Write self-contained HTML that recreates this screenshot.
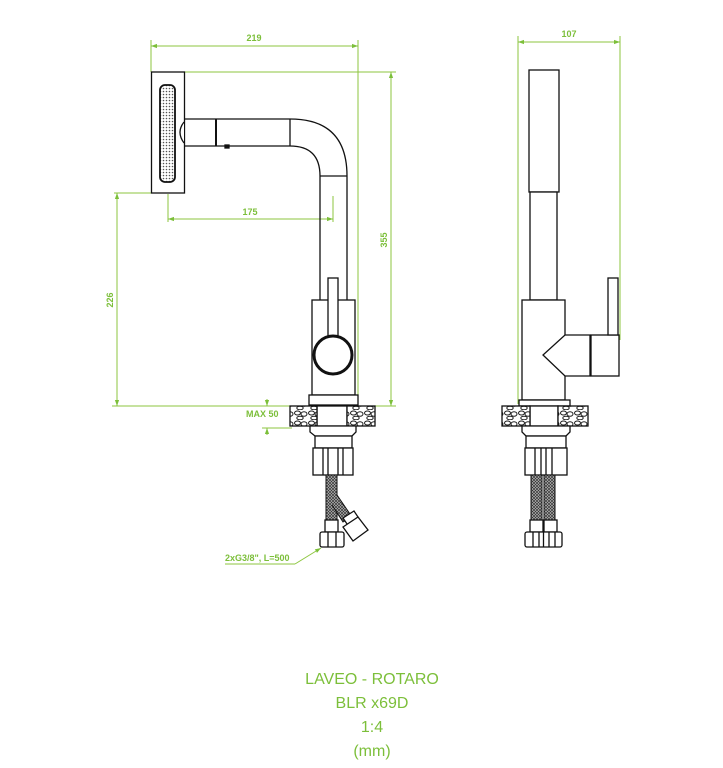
<!DOCTYPE html>
<html><head><meta charset="utf-8"><style>
html,body{margin:0;padding:0;background:#fff;}
svg{display:block;}
.t{font-family:"Liberation Sans",sans-serif;fill:#7cbf3a;}
</style></head><body>
<svg width="723" height="768" viewBox="0 0 723 768" xmlns="http://www.w3.org/2000/svg">
<defs>
<marker id="a" viewBox="0 0 10 10" refX="10" refY="5" markerWidth="6" markerHeight="6" orient="auto-start-reverse"><path d="M0,1.5 L10,5 L0,8.5 z" fill="#7cbf3a"/></marker>
<pattern id="dots" width="3" height="3" patternUnits="userSpaceOnUse"><rect width="3" height="3" fill="#fff"/><circle cx="1.5" cy="1.5" r="0.8" fill="#555"/></pattern>
<pattern id="braid" width="3" height="3" patternUnits="userSpaceOnUse"><rect width="3" height="3" fill="#bbb"/><path d="M0,0 L3,3 M3,0 L0,3" stroke="#333" stroke-width="0.7"/></pattern>
<pattern id="stone" width="14" height="10" patternUnits="userSpaceOnUse"><rect width="14" height="10" fill="#fff"/><ellipse cx="3.5" cy="3" rx="3" ry="2" fill="none" stroke="#222" stroke-width="1"/><ellipse cx="10" cy="4" rx="3" ry="2.3" fill="none" stroke="#222" stroke-width="1"/><ellipse cx="6" cy="8" rx="3.2" ry="1.8" fill="none" stroke="#222" stroke-width="1"/></pattern>
</defs>

<!-- GREEN DIMENSIONS LEFT -->
<g stroke="#8dc63f" stroke-width="1" fill="none">
<line x1="151" y1="40" x2="151" y2="72"/>
<line x1="358" y1="40" x2="358" y2="406"/>
<line x1="151" y1="46" x2="358" y2="46" marker-start="url(#a)" marker-end="url(#a)"/>
<line x1="184" y1="72" x2="396" y2="72"/>
<line x1="391" y1="72" x2="391" y2="406" marker-start="url(#a)" marker-end="url(#a)"/>
<line x1="168" y1="194" x2="168" y2="222"/>
<line x1="333" y1="196" x2="333" y2="222"/>
<line x1="168" y1="219" x2="333" y2="219" marker-start="url(#a)" marker-end="url(#a)"/>
<line x1="114" y1="193" x2="165" y2="193"/>
<line x1="117" y1="193" x2="117" y2="406" marker-start="url(#a)" marker-end="url(#a)"/>
<line x1="112" y1="406" x2="396" y2="406"/>
<line x1="312" y1="388" x2="355" y2="388" marker-start="url(#a)" marker-end="url(#a)"/>
<line x1="312" y1="380" x2="312" y2="395"/><line x1="355" y1="380" x2="355" y2="395"/>
<line x1="267" y1="399" x2="267" y2="406" marker-end="url(#a)"/>
<line x1="267" y1="435" x2="267" y2="428" marker-end="url(#a)"/>
<line x1="262" y1="428" x2="292" y2="428"/>
<line x1="225" y1="564" x2="295" y2="564"/>
<line x1="295" y1="564" x2="321" y2="548" marker-end="url(#a)"/>
<!-- right -->
<line x1="518" y1="36" x2="518" y2="404"/>
<line x1="620" y1="36" x2="620" y2="340"/>
<line x1="518" y1="42" x2="620" y2="42" marker-start="url(#a)" marker-end="url(#a)"/>
</g>
<g class="t" font-size="9" font-weight="bold">
<text x="254" y="41" text-anchor="middle">219</text>
<text x="250" y="215" text-anchor="middle">175</text>
<text x="334" y="385" text-anchor="middle">ø53</text>
<text x="246" y="417">MAX 50</text>
<text x="225" y="561">2xG3/8", L=500</text>
<text x="569" y="37" text-anchor="middle">107</text>
<text transform="translate(387,240) rotate(-90)" text-anchor="middle">355</text>
<text transform="translate(113,300) rotate(-90)" text-anchor="middle">226</text>
</g>

<!-- LEFT FAUCET -->
<g stroke="#111" stroke-width="1.3" fill="none">
<rect x="151.5" y="72" width="33" height="121" fill="#fff"/>
<rect x="160" y="85" width="15" height="97" rx="5" fill="url(#dots)" stroke-width="1.8"/>
<path d="M184,119 L290,119 Q347,119 347,176 L347,300 M184,146 L290,146 Q320,146 320,176 L320,300"/>
<path d="M184,122 Q176,132 184,143" fill="#fff"/>
<line x1="216" y1="119" x2="216" y2="146" stroke-width="2"/>
<line x1="290" y1="119" x2="290" y2="146"/>
<line x1="320" y1="176" x2="347" y2="176"/>
<rect x="225" y="145" width="4" height="3" fill="#111"/>
<rect x="312" y="300" width="43" height="95" fill="#fff"/>
<rect x="328" y="278" width="10" height="60" fill="#fff"/>
<circle cx="333" cy="355" r="19" fill="#fff" stroke-width="3"/>
<rect x="309" y="395" width="49" height="10" fill="#fff"/>
<rect x="317" y="406" width="30" height="20" fill="#fff"/>
<rect x="290" y="406" width="27" height="20" fill="url(#stone)"/>
<rect x="347" y="406" width="28" height="20" fill="url(#stone)"/>
<path d="M310,426 L356,426 L356,432 L352,436 L315,436 L310,432 Z" fill="#fff"/>
<rect x="315" y="436" width="37" height="12" fill="#fff"/>
<rect x="313" y="448" width="40" height="27" fill="#fff"/>
<path d="M323,448 V475 M328,448 V475 M338,448 V475 M343,448 V475"/>
<rect x="326" y="475" width="11" height="45" fill="url(#braid)" stroke-width="1"/>
<path d="M337,495 L352,517 L343,522 L332,505" fill="url(#braid)" stroke-width="1"/>
<path d="M343,518 L354,511 L360,520 L349,527 Z" fill="#fff"/>
<path d="M343,527 L358,517 L368,530 L353,541 Z" fill="#fff"/>
<rect x="325" y="520" width="13" height="12" fill="#fff"/>
<rect x="320" y="532" width="24" height="15" rx="2" fill="#fff"/>
<path d="M328,532 V547 M336,532 V547"/>
</g>

<!-- RIGHT FAUCET -->
<g stroke="#111" stroke-width="1.3" fill="none">
<rect x="529" y="70" width="30" height="122" fill="#fff"/>
<rect x="530" y="192" width="27" height="108" fill="#fff"/>
<rect x="522" y="300" width="43" height="100" fill="#fff"/>
<path d="M565,335 L590,335 L590,376 L565,376 L543,355 Z" fill="#fff"/>
<rect x="591" y="335" width="28" height="41" fill="#fff"/>
<rect x="608" y="278" width="10" height="57" fill="#fff"/>
<rect x="519" y="400" width="51" height="6" fill="#fff"/>
<rect x="530" y="406" width="28" height="20" fill="#fff"/>
<rect x="502" y="406" width="28" height="20" fill="url(#stone)"/>
<rect x="558" y="406" width="30" height="20" fill="url(#stone)"/>
<path d="M522,426 L570,426 L570,432 L566,436 L526,436 L522,432 Z" fill="#fff"/>
<rect x="526" y="436" width="40" height="12" fill="#fff"/>
<rect x="525" y="448" width="42" height="27" fill="#fff"/>
<path d="M535,448 V475 M541,448 V475 M546,448 V475 M552,448 V475"/>
<rect x="531" y="475" width="11" height="45" fill="url(#braid)" stroke-width="1"/>
<rect x="544" y="475" width="11" height="45" fill="url(#braid)" stroke-width="1"/>
<rect x="530" y="520" width="13" height="12" fill="#fff"/>
<rect x="544" y="520" width="13" height="12" fill="#fff"/>
<rect x="525" y="532" width="37" height="15" rx="2" fill="#fff"/>
<path d="M533,532 V547 M539,532 V547 M543.5,532 V547 M549,532 V547 M555,532 V547"/>
</g>

<g class="t" font-size="16" text-anchor="middle" font-weight="300">
<text x="372" y="684">LAVEO - ROTARO</text>
<text x="372" y="708">BLR x69D</text>
<text x="372" y="732">1:4</text>
<text x="372" y="756">(mm)</text>
</g>
</svg>
</body></html>
